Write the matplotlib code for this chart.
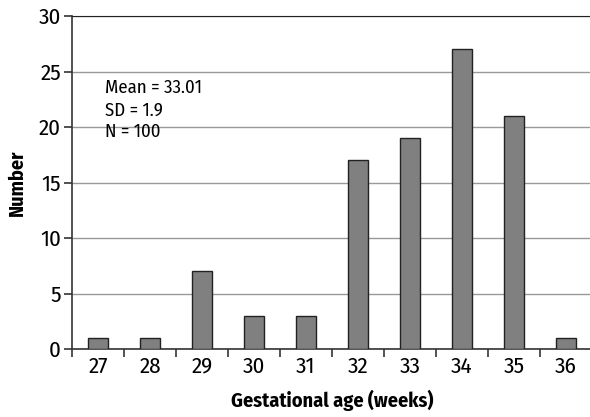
import matplotlib
matplotlib.use("Agg")
import matplotlib.pyplot as plt
from matplotlib import font_manager

weeks = [27, 28, 29, 30, 31, 32, 33, 34, 35, 36]
counts = [1, 1, 7, 3, 3, 17, 19, 27, 21, 1]
yticks = [0, 5, 10, 15, 20, 25, 30]
stats_text = ["Mean = 33.01", "SD = 1.9", "N = 100"]

names = {f.name for f in font_manager.fontManager.ttflist}
fam = next((n for n in ["Fira Sans Condensed", "PT Sans Narrow", "Roboto Condensed", "Open Sans Condensed"] if n in names), "DejaVu Sans")
plt.rcParams["font.family"] = [fam, "DejaVu Sans"]

fig = plt.figure(figsize=(5.9, 4.17), dpi=100)
ax = fig.add_axes([72/590, 1-349/417, 520/590, 333/417])

ax.bar(weeks, counts, width=0.4, color="#808080", edgecolor="#222222", linewidth=1.0, zorder=3)
ax.set_xlim(26.5, 36.5)
ax.set_ylim(0, 30)
ax.set_yticks(yticks)
ax.set_yticklabels([str(v) for v in yticks], fontsize=16.5)
ax.yaxis.grid(True, color="#999999", linewidth=1.0, zorder=0)
ax.set_xticks([w - 0.5 for w in weeks] + [weeks[-1] + 0.5])
ax.set_xticklabels([])
ax.set_xticks(weeks, minor=True)
ax.set_xticklabels([str(w) for w in weeks], minor=True, fontsize=16.5)
ax.tick_params(axis="x", which="minor", length=0, pad=5)
ax.tick_params(axis="x", which="major", length=6, width=1.2, color="#333333")
ax.tick_params(axis="y", length=6, width=1.2, color="#333333", pad=2)
ax.spines["right"].set_visible(False)
ax.spines["top"].set_color("#222222")
ax.spines["left"].set_color("#333333")
ax.spines["bottom"].set_color("#333333")
ax.spines["left"].set_linewidth(1.2)
ax.spines["bottom"].set_linewidth(1.2)

ax.text(0.063, 0.81, "\n".join(stats_text), transform=ax.transAxes, fontsize=13.5,
        va="top", ha="left", linespacing=1.3)

ax.set_xlabel("Gestational age (weeks)", fontsize=14.5, fontweight="bold", labelpad=9)
ax.set_ylabel("Number", fontsize=14.5, fontweight="bold", labelpad=8)

fig.savefig("out.png", dpi=100)
